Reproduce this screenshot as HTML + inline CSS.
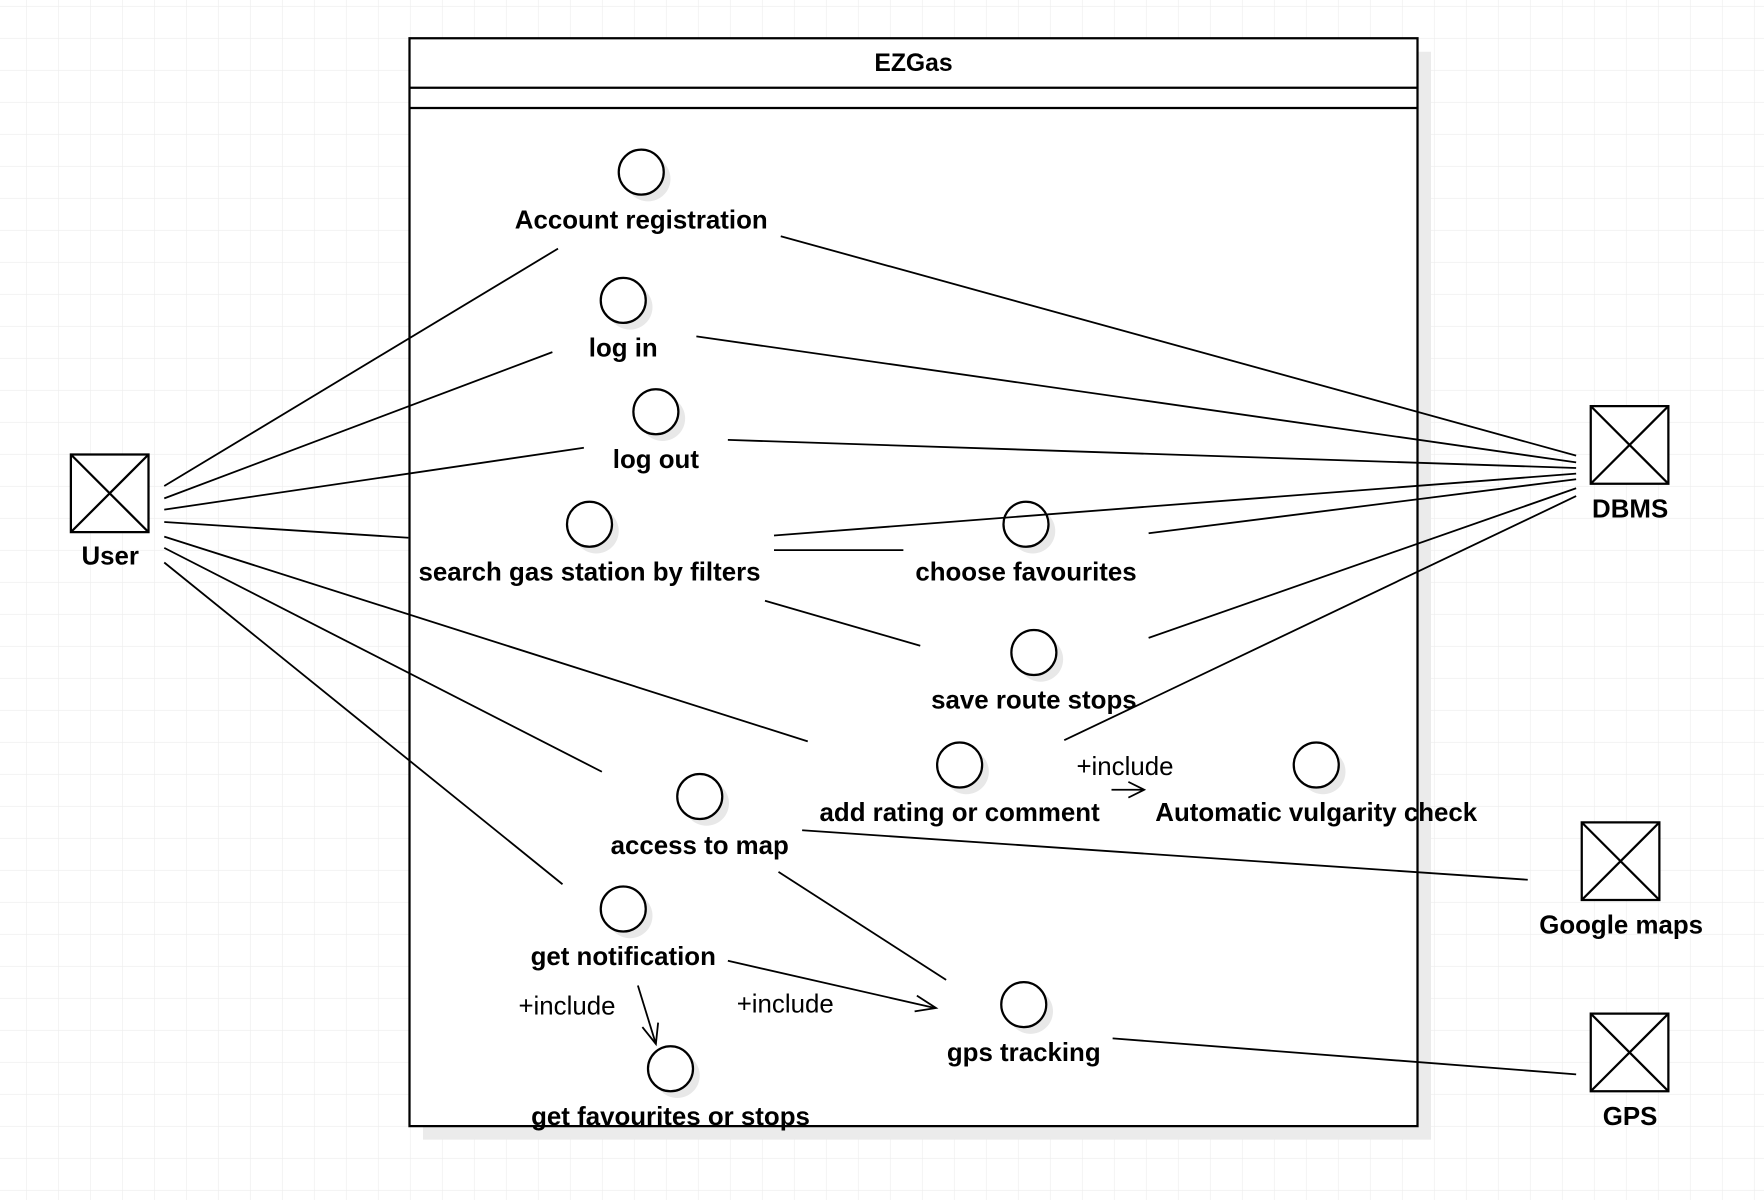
<!DOCTYPE html>
<html><head><meta charset="utf-8"><style>html,body{margin:0;padding:0;background:#fff}svg{display:block}</style></head>
<body>
<svg width="1764" height="1200" viewBox="0 0 1568 1066.67" xmlns="http://www.w3.org/2000/svg" font-family="Liberation Sans, Arial, sans-serif">
<defs>
<pattern id="g" x="23.1" y="5.3" width="28.444" height="28.444" patternUnits="userSpaceOnUse">
<path d="M0 0H28.444M0 0V28.444" stroke="#ececec" stroke-width="1" fill="none"/>
</pattern>
</defs>
<rect width="1568" height="1067" fill="url(#g)"/>
<rect x="376" y="46" width="896" height="967" fill="#ebebeb"/>
<rect x="364" y="34" width="896" height="967" fill="#fff" stroke="#000" stroke-width="2"/>
<line x1="364" y1="78" x2="1260" y2="78" stroke="#000" stroke-width="2"/>
<line x1="364" y1="96" x2="1260" y2="96" stroke="#000" stroke-width="2"/>
<text x="812" y="63" text-anchor="middle" font-weight="bold" font-size="22">EZGas</text>

<g fill="#e8e8e8">
<circle cx="576" cy="159" r="20"/><circle cx="560" cy="273" r="20"/><circle cx="589" cy="372" r="20"/>
<circle cx="530" cy="472" r="20"/><circle cx="918" cy="472" r="20"/><circle cx="925" cy="586" r="20"/>
<circle cx="859" cy="686" r="20"/><circle cx="1176" cy="686" r="20"/><circle cx="628" cy="714" r="20"/>
<circle cx="560" cy="814" r="20"/><circle cx="916" cy="899" r="20"/><circle cx="602" cy="956" r="20"/>
</g>
<g fill="#fff" stroke="#000" stroke-width="2">
<circle cx="570" cy="153" r="20"/><circle cx="554" cy="267" r="20"/><circle cx="583" cy="366" r="20"/>
<circle cx="524" cy="466" r="20"/><circle cx="912" cy="466" r="20"/><circle cx="919" cy="580" r="20"/>
<circle cx="853" cy="680" r="20"/><circle cx="1170" cy="680" r="20"/><circle cx="622" cy="708" r="20"/>
<circle cx="554" cy="808" r="20"/><circle cx="910" cy="893" r="20"/><circle cx="596" cy="950" r="20"/>
</g>
<g font-weight="bold" font-size="23" text-anchor="middle">
<text x="570" y="203">Account registration</text>
<text x="554" y="317">log in</text>
<text x="583" y="416">log out</text>
<text x="524" y="516">search gas station by filters</text>
<text x="912" y="516">choose favourites</text>
<text x="919" y="630">save route stops</text>
<text x="853" y="730">add rating or comment</text>
<text x="1170" y="730">Automatic vulgarity check</text>
<text x="622" y="759">access to map</text>
<text x="554" y="858">get notification</text>
<text x="910" y="943">gps tracking</text>
<text x="596" y="1000">get favourites or stops</text>
<text x="98" y="502">User</text>
<text x="1449" y="460">DBMS</text>
<text x="1441" y="830">Google maps</text>
<text x="1449" y="1000">GPS</text>
</g>
<g font-size="23" text-anchor="middle">
<text x="1000" y="689">+include</text>
<text x="504" y="902">+include</text>
<text x="698" y="900">+include</text>
</g>
<g fill="#fff" stroke="#000" stroke-width="2">
<rect x="63" y="404" width="69" height="69"/><path d="M63 404L132 473M132 404L63 473"/>
<rect x="1414" y="361" width="69" height="69"/><path d="M1414 361L1483 430M1483 361L1414 430"/>
<rect x="1406" y="731" width="69" height="69"/><path d="M1406 731L1475 800M1475 731L1406 800"/>
<rect x="1414" y="901" width="69" height="69"/><path d="M1414 901L1483 970M1483 901L1414 970"/>
</g>
<g stroke="#000" stroke-width="1.6" fill="none">
<line x1="146" y1="432" x2="496" y2="221"/>
<line x1="146" y1="443" x2="491" y2="313"/>
<line x1="146" y1="453" x2="519" y2="398"/>
<line x1="146" y1="464" x2="363" y2="478"/>
<line x1="146" y1="477" x2="718" y2="659"/>
<line x1="146" y1="487" x2="535" y2="686"/>
<line x1="146" y1="500" x2="500" y2="786"/>
<line x1="694" y1="210" x2="1401" y2="405"/>
<line x1="619" y1="299" x2="1401" y2="411"/>
<line x1="647" y1="391" x2="1401" y2="416"/>
<line x1="688" y1="476" x2="1401" y2="421"/>
<line x1="1021" y1="474" x2="1401" y2="426"/>
<line x1="1021" y1="567" x2="1401" y2="434"/>
<line x1="946" y1="658" x2="1401" y2="441"/>
<line x1="688" y1="489" x2="803" y2="489"/>
<line x1="680" y1="534" x2="818" y2="574"/>
<line x1="713" y1="738" x2="1358" y2="782"/>
<line x1="692" y1="775" x2="841" y2="871"/>
<line x1="989" y1="923" x2="1401" y2="955"/>
<line x1="988" y1="702" x2="1016" y2="702"/>
<path d="M1003 695L1017 702L1003 709"/>
<line x1="567" y1="876" x2="583" y2="928"/>
<path d="M571 913L583 928L585 909"/>
<line x1="647" y1="854" x2="831" y2="896"/>
<path d="M815 885L832 896L813 899"/>
</g>
</svg>
</body></html>
